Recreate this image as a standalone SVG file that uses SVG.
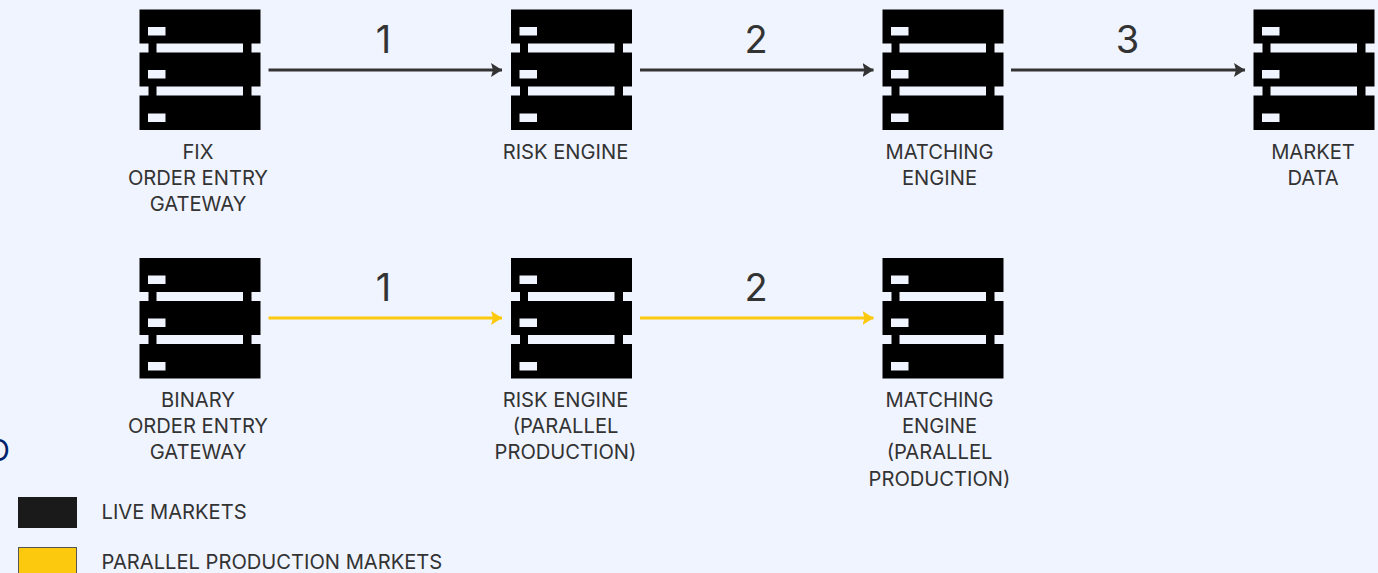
<svg xmlns="http://www.w3.org/2000/svg" width="1378" height="573" viewBox="0 0 1378 573">
<style>
.t{font-family:Inter,Roboto,"Liberation Sans",sans-serif;font-size:20.15px;fill:#333;text-anchor:middle}
.l{text-anchor:start}
.n{font-family:Inter,"Open Sans","Liberation Sans",sans-serif;font-size:38px;fill:#333;text-anchor:middle}
.a{fill:none;stroke-width:3.2}
.k{stroke:#333}
.y{stroke:#fcc90f}
</style>
<defs>
<path id="s" fill-rule="evenodd" d="M0 0H121V34H112V43H121V77H112V86H121V120.500H0V86H9V77H0V43H9V34H0ZM8.500 17.500V26H26V17.500ZM8.500 60.500V69H26V60.500ZM8.500 104V112.500H26V104ZM17 34V43H103.500V34ZM17 77V86H103.500V77Z"/>
<marker id="mk" markerUnits="userSpaceOnUse" markerWidth="12" markerHeight="14" refX="11" refY="7" orient="auto"><path d="M0 0L11 7L0 14L2 7Z" fill="#333"/></marker>
<marker id="my" markerUnits="userSpaceOnUse" markerWidth="12" markerHeight="14" refX="11" refY="7" orient="auto"><path d="M0 0L11 7L0 14L2 7Z" fill="#fcc90f"/></marker>
</defs>
<rect width="1378" height="573" fill="#f0f4ff"/>
<g id="connectors">
<path class="a k" marker-end="url(#mk)" d="M268.500 70H502"/>
<path class="a k" marker-end="url(#mk)" d="M640 70H873.500"/>
<path class="a k" marker-end="url(#mk)" d="M1011 70H1245"/>
<path class="a y" marker-end="url(#my)" d="M268.500 318H502"/>
<path class="a y" marker-end="url(#my)" d="M640 318H873.500"/>
<text class="n" x="383.500" y="53">1</text>
<text class="n" x="756" y="53">2</text>
<text class="n" x="1127.500" y="53">3</text>
<text class="n" x="383.500" y="301">1</text>
<text class="n" x="756" y="301">2</text>
</g>
<g id="fix-gateway"><use href="#s" x="139.500" y="9.500"/><text class="t" x="198" y="159">FIX</text><text class="t" x="198" y="185">ORDER ENTRY</text><text class="t" x="198" y="211">GATEWAY</text></g>
<g id="risk-engine"><use href="#s" x="511" y="9.500"/><text class="t" x="565.500" y="159">RISK ENGINE</text></g>
<g id="matching-engine"><use href="#s" x="882.500" y="9.500"/><text class="t" x="939.500" y="159">MATCHING</text><text class="t" x="939.500" y="185">ENGINE</text></g>
<g id="market-data"><use href="#s" x="1253.500" y="9.500"/><text class="t" x="1313" y="159">MARKET</text><text class="t" x="1313" y="185">DATA</text></g>
<g id="binary-gateway"><use href="#s" x="139.500" y="258"/><text class="t" x="198" y="407">BINARY</text><text class="t" x="198" y="433">ORDER ENTRY</text><text class="t" x="198" y="459">GATEWAY</text></g>
<g id="risk-engine-parallel"><use href="#s" x="511" y="258"/><text class="t" x="565.500" y="407">RISK ENGINE</text><text class="t" x="565.500" y="433">(PARALLEL</text><text class="t" x="565.500" y="459">PRODUCTION)</text></g>
<g id="matching-engine-parallel"><use href="#s" x="882.500" y="258"/><text class="t" x="939.500" y="407">MATCHING</text><text class="t" x="939.500" y="433">ENGINE</text><text class="t" x="939.500" y="459">(PARALLEL</text><text class="t" x="939.500" y="486">PRODUCTION)</text></g>
<g id="legend">
<text x="-13" y="460.500" font-family="Inter,Roboto,'Liberation Sans',sans-serif" font-size="30" fill="#001f6b">O</text>
<rect x="18" y="497" width="59" height="31" fill="#1a1a1a"/>
<text class="t l" x="101.500" y="519">LIVE MARKETS</text>
<rect x="18.500" y="547.500" width="58" height="30" fill="#fcc90f" stroke="#555"/>
<text class="t l" x="101.500" y="569">PARALLEL PRODUCTION MARKETS</text>
</g>
</svg>
